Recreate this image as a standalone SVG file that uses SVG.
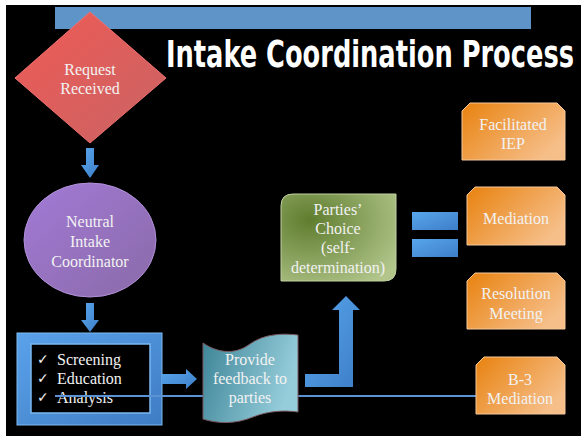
<svg xmlns="http://www.w3.org/2000/svg" width="581" height="436" viewBox="0 0 581 436">
<defs>
<style>
.t{font-size:16px;fill:#f2f2f2;text-anchor:middle}
.tl{font-size:16px;fill:#f2f2f2}
.ck{font-size:14px;fill:#f2f2f2}
.arr{fill:url(#gBlue)}
.org{fill:url(#gOrange);stroke:#f6c89a;stroke-width:1}
</style>
<linearGradient id="gRed" x1="0" y1="0" x2="1" y2="1"><stop offset="0" stop-color="#f05a55"/><stop offset="1" stop-color="#c86464"/></linearGradient>
<linearGradient id="gPurple" x1="0" y1="0" x2="1" y2="1"><stop offset="0" stop-color="#a27ad6"/><stop offset="1" stop-color="#8a6aa8"/></linearGradient>
<linearGradient id="gBlue" x1="0" y1="0" x2="1" y2="1"><stop offset="0" stop-color="#58a6ec"/><stop offset="1" stop-color="#3d7ec8"/></linearGradient>
<linearGradient id="gFrame" x1="0" y1="0" x2="1" y2="1"><stop offset="0" stop-color="#5aa2ea"/><stop offset="1" stop-color="#3f7cc4"/></linearGradient>
<linearGradient id="gTeal" x1="0" y1="0" x2="1" y2="0.3"><stop offset="0" stop-color="#3c8496"/><stop offset="1" stop-color="#96cddb"/></linearGradient>
<radialGradient id="gGreen" cx="0.25" cy="0.3" r="0.9"><stop offset="0" stop-color="#5f7d2e"/><stop offset="1" stop-color="#b2c68c"/></radialGradient>
<linearGradient id="gOrange" x1="0" y1="0" x2="1" y2="0.6"><stop offset="0" stop-color="#e8820f"/><stop offset="1" stop-color="#f6be88"/></linearGradient>
</defs>
<rect x="0" y="0" width="581" height="436" fill="#ffffff"/>
<rect x="6" y="5" width="575" height="431" fill="#000000"/>
<rect x="55" y="7" width="476" height="22" fill="#5f94c8"/>
<text transform="translate(166,67) scale(1,1.45)" x="0" y="0" font-family="DejaVu Sans Condensed, Liberation Sans Narrow, Liberation Sans, sans-serif" font-weight="bold" font-size="26" fill="#ffffff" textLength="408" lengthAdjust="spacingAndGlyphs">Intake Coordination Process</text>

<g font-family="Liberation Serif, Times New Roman, DejaVu Serif, serif">
<g id="request">
<polygon points="90,12 166,78 90,143 15,78" fill="url(#gRed)" stroke="#f07070" stroke-width="1"/>
<text class="t" x="90" y="75">Request</text>
<text class="t" x="90" y="94">Received</text>
</g>

<g id="coordinator">
<ellipse cx="90" cy="240" rx="66" ry="57" fill="url(#gPurple)" stroke="#b090d8" stroke-width="1"/>
<text class="t" x="90" y="227">Neutral</text>
<text class="t" x="90" y="247">Intake</text>
<text class="t" x="90" y="267">Coordinator</text>
</g>

<g id="screening">
<rect x="17" y="333" width="145" height="92" fill="url(#gFrame)" stroke="#7cbaf2" stroke-width="1"/>
<rect x="31" y="344" width="119" height="69" fill="#000000" stroke="#7ab8f0" stroke-width="1.5"/>
<text class="ck" x="37" y="364" font-family="DejaVu Sans, sans-serif">✓</text>
<text class="tl" x="57" y="365">Screening</text>
<text class="ck" x="37" y="383" font-family="DejaVu Sans, sans-serif">✓</text>
<text class="tl" x="57" y="384">Education</text>
<text class="ck" x="37" y="402" font-family="DejaVu Sans, sans-serif">✓</text>
<text class="tl" x="57" y="403">Analysis</text>
</g>

<g id="connectors">
<polygon class="arr" points="86,148 94,148 94,165 99,165 90,178 81,165 86,165"/>
<polygon class="arr" points="86,303 94,303 94,320 99,320 90,332 81,320 86,320"/>
<polygon class="arr" points="162,374 186,374 186,369 197,379 186,389 186,384 162,384"/>
<polygon class="arr" points="305,374 339,374 339,310 332,310 346,296 360,310 353,310 353,387 305,387"/>
<line x1="55" y1="396" x2="476" y2="396" stroke="#5a92d4" stroke-width="2"/>
</g>

<g id="feedback">
<path d="M203,343 C216,352 234,356 250,344 C264,334 282,333 298,335 L298,412 C284,410 268,411 253,417 C236,424 218,424 203,419 Z" fill="url(#gTeal)" stroke="#7a5a60" stroke-width="1"/>
<text class="t" x="250" y="365">Provide</text>
<text class="t" x="250" y="384">feedback to</text>
<text class="t" x="250" y="403">parties</text>
</g>

<g id="parties">
<path d="M293,194 L396,194 L396,269 Q396,281 384,281 L281,281 L281,206 Q281,194 293,194 Z" fill="url(#gGreen)" stroke="#c0d0a0" stroke-width="1"/>
<text class="t" x="338" y="215">Parties’</text>
<text class="t" x="338" y="234">Choice</text>
<text class="t" x="338" y="253">(self-</text>
<text class="t" x="338" y="273">determination)</text>
</g>

<g id="equals">
<rect x="412" y="212" width="46" height="18" fill="url(#gBlue)"/>
<rect x="412" y="239" width="46" height="18" fill="url(#gBlue)"/>
</g>

<g id="facilitated">
<path class="org" d="M470,103 L557,103 L565,111 L565,160 L462,160 L462,111 Z"/>
<text class="t" x="513" y="130">Facilitated</text>
<text class="t" x="513" y="149">IEP</text>
</g>

<g id="mediation">
<path class="org" d="M475,187 L557,187 L565,195 L565,245 L467,245 L467,195 Z"/>
<text class="t" x="516" y="224">Mediation</text>
</g>

<g id="resolution">
<path class="org" d="M475,273 L557,273 L565,281 L565,329 L467,329 L467,281 Z"/>
<text class="t" x="516" y="299">Resolution</text>
<text class="t" x="516" y="319">Meeting</text>
</g>

<g id="b3">
<path class="org" d="M484,357 L557,357 L565,365 L565,414 L476,414 L476,365 Z"/>
<text class="t" x="520" y="385">B-3</text>
<text class="t" x="520" y="404">Mediation</text>
</g>
</g>
</svg>
